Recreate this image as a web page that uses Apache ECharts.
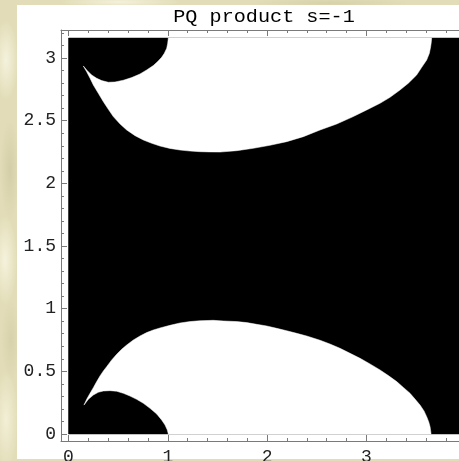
<!DOCTYPE html>
<html><head><meta charset="utf-8">
<script src="https://cdn.jsdelivr.net/npm/echarts@6/dist/echarts.min.js"></script>
<style>
html,body{margin:0;padding:0;width:459px;height:461px;overflow:hidden;}
body{
  background-color:#e2ddb8;
  background-image:
    radial-gradient(ellipse 12px 40px at 6px 60px, rgba(248,246,228,0.85), rgba(248,246,228,0) 100%),
    radial-gradient(ellipse 10px 50px at 10px 170px, rgba(205,200,160,0.7), rgba(205,200,160,0) 100%),
    radial-gradient(ellipse 12px 45px at 5px 260px, rgba(250,248,230,0.8), rgba(250,248,230,0) 100%),
    radial-gradient(ellipse 10px 40px at 11px 340px, rgba(210,205,165,0.7), rgba(210,205,165,0) 100%),
    radial-gradient(ellipse 12px 50px at 6px 420px, rgba(246,244,222,0.8), rgba(246,244,222,0) 100%),
    radial-gradient(ellipse 60px 6px at 120px 2px, rgba(248,246,228,0.8), rgba(248,246,228,0) 100%),
    radial-gradient(ellipse 80px 6px at 330px 3px, rgba(208,202,160,0.6), rgba(208,202,160,0) 100%);
}
#panel{position:absolute;left:17px;top:5px;width:442px;height:454px;background:#ffffff;}
#chart{position:absolute;left:0;top:0;width:459px;height:461px;}
</style></head>
<body><div id="panel"></div><div id="chart"></div>
<script>
// ---- data ----
const TITLE = 'PQ product s=-1';
const X_MAJOR = [0, 1, 2, 3, 4];
const X_MINOR = [0.2,0.4,0.6,0.8,1.2,1.4,1.6,1.8,2.2,2.4,2.6,2.8,3.2,3.4,3.6,3.8];
const Y_MAJOR = [0, 0.5, 1, 1.5, 2, 2.5, 3];
const Y_MINOR = [0.1,0.2,0.3,0.4,0.6,0.7,0.8,0.9,1.1,1.2,1.3,1.4,1.6,1.7,1.8,1.9,2.1,2.2,2.3,2.4,2.6,2.7,2.8,2.9,3.1,3.2];
// plotted domain (black background region)
const X_DOMAIN = [0, 3.95];
const Y_DOMAIN = [0, 3.16];
// lower white region boundary: bottom edge, right/top outer curve, cusp, blob top
const LOWER_WHITE = [
  [1.005,0],[3.651,0],[3.647,0.026],[3.641,0.058],[3.627,0.098],[3.607,0.138],[3.580,0.184],
  [3.540,0.231],[3.489,0.279],[3.439,0.325],[3.372,0.372],[3.305,0.418],[3.221,0.466],
  [3.137,0.511],[3.036,0.559],[2.936,0.604],[2.835,0.644],[2.734,0.684],[2.633,0.718],
  [2.533,0.748],[2.399,0.782],[2.298,0.803],[2.197,0.824],[2.097,0.843],[1.996,0.862],
  [1.895,0.875],[1.795,0.889],[1.694,0.897],[1.559,0.902],[1.458,0.907],[1.324,0.904],
  [1.224,0.897],[1.123,0.886],[1.022,0.867],[0.921,0.846],[0.854,0.830],[0.787,0.809],
  [0.720,0.782],[0.653,0.750],[0.586,0.710],[0.535,0.676],[0.485,0.636],[0.435,0.591],
  [0.384,0.537],[0.351,0.503],[0.317,0.463],[0.284,0.418],[0.250,0.370],[0.217,0.325],
  [0.183,0.277],[0.156,0.231],
  [0.200,0.277],[0.250,0.311],[0.300,0.333],[0.351,0.343],[0.418,0.346],[0.485,0.341],
  [0.552,0.325],[0.619,0.303],[0.686,0.277],[0.754,0.245],[0.821,0.205],[0.888,0.160],
  [0.938,0.112],[0.972,0.072],[0.995,0.032],[1.005,0]
];
// upper white region boundary: blob bottom, cusp, outer curve, top edge
const UPPER_WHITE = [
  [1.005,3.16],[0.999,3.118],[0.989,3.078],[0.965,3.038],[0.938,3.006],[0.898,2.972],
  [0.854,2.940],[0.787,2.905],[0.720,2.873],[0.636,2.844],[0.552,2.823],[0.468,2.809],
  [0.401,2.807],[0.334,2.820],[0.284,2.839],[0.233,2.865],[0.190,2.899],[0.149,2.937],
  [0.183,2.890],[0.217,2.839],[0.250,2.785],[0.300,2.719],[0.351,2.652],[0.401,2.591],
  [0.451,2.533],[0.519,2.474],[0.586,2.426],[0.670,2.381],[0.754,2.346],[0.838,2.320],
  [0.921,2.298],[1.022,2.279],[1.123,2.266],[1.224,2.258],[1.324,2.253],[1.425,2.251],
  [1.526,2.250],[1.694,2.261],[1.861,2.280],[2.029,2.304],[2.197,2.333],[2.365,2.373],
  [2.533,2.426],[2.701,2.474],[2.868,2.533],[3.003,2.586],[3.137,2.639],[3.238,2.687],
  [3.338,2.745],[3.422,2.799],[3.506,2.865],[3.557,2.926],[3.607,2.985],[3.634,3.038],
  [3.647,3.091],[3.654,3.131],[3.657,3.16]
];
// frame extents (data units, including Mathematica padding)
const X_FRAME = [-0.0755, 4.023];
const Y_FRAME = [-0.0559, 3.224];

// ---- chart ----
const FONT = 'Liberation Mono, Courier New, monospace';
const AXIS_COLOR = '#7a7a7a';
function fmt(v){ return String(Math.round(v*10)/10); }

function makeX(position, major, showLabel){
  return {
    type:'value', position:position, min:X_FRAME[0], max:X_FRAME[1],
    splitLine:{show:false},
    axisLine:{show:major, onZero:false, lineStyle:{color:AXIS_COLOR, width:1}},
    axisTick:{show:true, inside:true, length: major?6:3, customValues: major?X_MAJOR:X_MINOR,
              lineStyle:{color:AXIS_COLOR, width:1}},
    axisLabel:{show:showLabel, customValues:X_MAJOR, formatter:fmt, margin:7,
               fontFamily:FONT, fontSize:18, color:'#222'}
  };
}
function makeY(position, major, showLabel){
  return {
    type:'value', position:position, min:Y_FRAME[0], max:Y_FRAME[1],
    splitLine:{show:false},
    axisLine:{show:major, onZero:false, lineStyle:{color:AXIS_COLOR, width:1}},
    axisTick:{show:true, inside:true, length: major?6:3, customValues: major?Y_MAJOR:Y_MINOR,
              lineStyle:{color:AXIS_COLOR, width:1}},
    axisLabel:{show:showLabel, customValues:Y_MAJOR, formatter:fmt, margin:5,
               fontFamily:FONT, fontSize:18, color:'#222'}
  };
}
function poly(points, color){
  return {
    type:'custom', coordinateSystem:'cartesian2d', xAxisIndex:0, yAxisIndex:0,
    silent:true, animation:false, data:[0], clip:true,
    renderItem:function(params, api){
      return {type:'polygon', shape:{points:points.map(function(p){return api.coord(p);})},
              style:{fill:color, stroke:color, lineWidth:0.5}};
    }
  };
}
const BLACK_RECT = [[X_DOMAIN[0],Y_DOMAIN[0]],[X_DOMAIN[1],Y_DOMAIN[0]],[X_DOMAIN[1],Y_DOMAIN[1]],[X_DOMAIN[0],Y_DOMAIN[1]]];

const chart = echarts.init(document.getElementById('chart'), null, {renderer:'canvas'});
chart.setOption({
  animation:false,
  backgroundColor:'transparent',
  grid:{left:61, top:30, right:-9, bottom:20, containLabel:false, outerBoundsMode:'none'},
  xAxis:[makeX('bottom',true,true), makeX('bottom',false,false), makeX('top',true,false), makeX('top',false,false)],
  yAxis:[makeY('left',true,true), makeY('left',false,false), makeY('right',true,false), makeY('right',false,false)],
  graphic:[{type:'group', x:264, y:17, scaleX:1.12, scaleY:1,
    children:[{type:'text', x:0, y:0,
      style:{text:TITLE, align:'center', verticalAlign:'middle', fontFamily:FONT, fontSize:18, fill:'#000'}}]}],
  series:[poly(BLACK_RECT,'#000000'), poly(LOWER_WHITE,'#ffffff'), poly(UPPER_WHITE,'#ffffff')]
});
</script>
</body></html>
